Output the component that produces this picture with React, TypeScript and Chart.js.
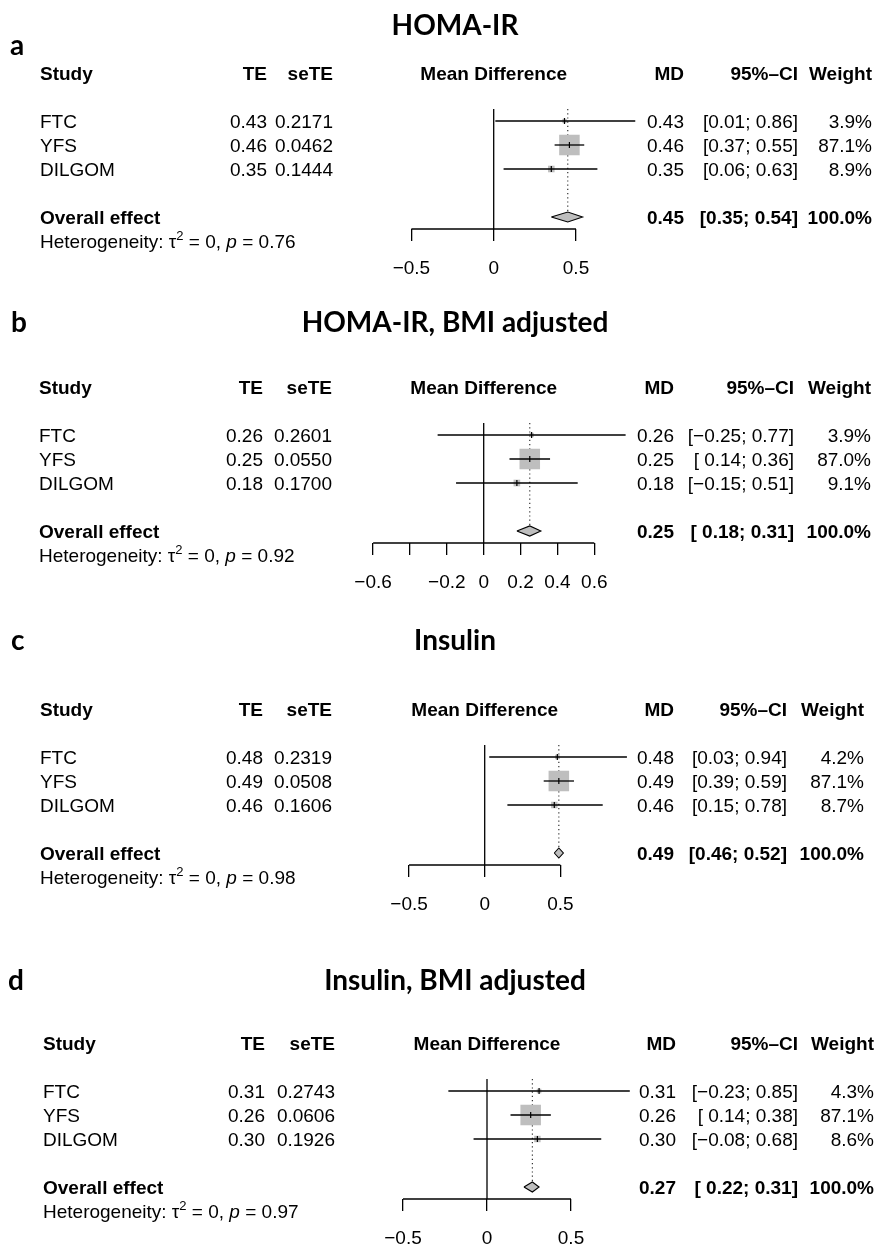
import React, { useEffect, useRef } from "react";
import { Chart, registerables } from "chart.js";

Chart.register(...registerables);

const PAGE_W = 877;
const PAGE_H = 1245;

// ---------------- data ----------------
const STUDIES = ["FTC", "YFS", "DILGOM"];
const TITLES = ["HOMA-IR", "HOMA-IR, BMI adjusted", "Insulin", "Insulin, BMI adjusted"];
const LETTERS = ["a", "b", "c", "d"];
const TAU2 = "0";

const TE_A = [0.43, 0.46, 0.35];
const SE_A = [0.2171, 0.0462, 0.1444];
const LO_A = [0.01, 0.37, 0.06];
const HI_A = [0.86, 0.55, 0.63];
const W_A = [3.9, 87.1, 8.9];
const OVERALL_A = [0.45, 0.35, 0.54];
const P_A = "0.76";
const TICKS_A = [-0.5, 0, 0.5];
const TICKLABELS_A = ["\u22120.5", "0", "0.5"];

const TE_B = [0.26, 0.25, 0.18];
const SE_B = [0.2601, 0.055, 0.17];
const LO_B = [-0.25, 0.14, -0.15];
const HI_B = [0.77, 0.36, 0.51];
const W_B = [3.9, 87.0, 9.1];
const OVERALL_B = [0.25, 0.18, 0.31];
const P_B = "0.92";
const TICKS_B = [-0.6, -0.4, -0.2, 0, 0.2, 0.4, 0.6];
const TICKLABELS_B = ["\u22120.6", "", "\u22120.2", "0", "0.2", "0.4", "0.6"];

const TE_C = [0.48, 0.49, 0.46];
const SE_C = [0.2319, 0.0508, 0.1606];
const LO_C = [0.03, 0.39, 0.15];
const HI_C = [0.94, 0.59, 0.78];
const W_C = [4.2, 87.1, 8.7];
const OVERALL_C = [0.49, 0.46, 0.52];
const P_C = "0.98";
const TICKS_C = [-0.5, 0, 0.5];
const TICKLABELS_C = ["\u22120.5", "0", "0.5"];

const TE_D = [0.31, 0.26, 0.3];
const SE_D = [0.2743, 0.0606, 0.1926];
const LO_D = [-0.23, 0.14, -0.08];
const HI_D = [0.85, 0.38, 0.68];
const W_D = [4.3, 87.1, 8.6];
const OVERALL_D = [0.27, 0.22, 0.31];
const P_D = "0.97";
const TICKS_D = [-0.5, 0, 0.5];
const TICKLABELS_D = ["\u22120.5", "0", "0.5"];

type PanelData = {
  te: number[];
  se: number[];
  lo: number[];
  hi: number[];
  w: number[];
  overall: number[];
  p: string;
  ticks: number[];
  tickLabels: string[];
};

const PANELS: PanelData[] = [
  { te: TE_A, se: SE_A, lo: LO_A, hi: HI_A, w: W_A, overall: OVERALL_A, p: P_A, ticks: TICKS_A, tickLabels: TICKLABELS_A },
  { te: TE_B, se: SE_B, lo: LO_B, hi: HI_B, w: W_B, overall: OVERALL_B, p: P_B, ticks: TICKS_B, tickLabels: TICKLABELS_B },
  { te: TE_C, se: SE_C, lo: LO_C, hi: HI_C, w: W_C, overall: OVERALL_C, p: P_C, ticks: TICKS_C, tickLabels: TICKLABELS_C },
  { te: TE_D, se: SE_D, lo: LO_D, hi: HI_D, w: W_D, overall: OVERALL_D, p: P_D, ticks: TICKS_D, tickLabels: TICKLABELS_D },
];

// ---------------- layout / style ----------------
const FONT = '"Liberation Sans", Arial, Helvetica, sans-serif';
const TITLE_FONT = 'Lato, "Open Sans", sans-serif';
const FS = 19;
const TITLE_FS = 28;
const TITLE_X = 455;
const AXIS_H = 60;
const GRAY = "#bebebe";
const BOX_K = 2.2; // box side (px) per sqrt(weight)
const DIAMOND_HALF = 0.21; // rows
const HEADER_ROW = -1;
const OVERALL_ROW = 5;
const HET_ROW = 6;
const CAP_MID = 0.358; // cap-height centre above baseline, in em

type Layout = {
  titleY: number;
  letterY: number;
  letterX: number;
  row1: number;
  rowH: number;
  zeroPx: number;
  unitPx: number;
  studyX: number;
  teR: number;
  seR: number;
  mdR: number;
  ciR: number;
  wR: number;
};

const LAYOUT: Layout[] = [
  { titleY: 25, letterY: 45, letterX: 10, row1: 121, rowH: 24, zeroPx: 493.7, unitPx: 164.6, studyX: 40, teR: 267, seR: 333, mdR: 684, ciR: 798, wR: 872 },
  { titleY: 322, letterY: 322, letterX: 11, row1: 435, rowH: 24, zeroPx: 483.7, unitPx: 184.3, studyX: 39, teR: 263, seR: 332, mdR: 674, ciR: 794, wR: 871 },
  { titleY: 640, letterY: 640, letterX: 11, row1: 757, rowH: 24, zeroPx: 484.7, unitPx: 151.3, studyX: 40, teR: 263, seR: 332, mdR: 674, ciR: 787, wR: 864 },
  { titleY: 980, letterY: 980, letterX: 8, row1: 1091, rowH: 24, zeroPx: 487, unitPx: 168, studyX: 43, teR: 265, seR: 335, mdR: 676, ciR: 798, wR: 874 },
];

const fmtNum = (v: number, d: number) => (v < 0 ? "\u2212" : "") + Math.abs(v).toFixed(d);

function ciText(lo: number, hi: number, padLo: boolean, padHi: boolean) {
  return (
    "[" +
    (padLo && lo >= 0 ? " " : "") +
    fmtNum(lo, 2) +
    "; " +
    (padHi && hi >= 0 ? " " : "") +
    fmtNum(hi, 2) +
    "]"
  );
}

function buildConfig(idx: number): any {
  const p = PANELS[idx];
  const L = LAYOUT[idx];
  const xmin = Math.min(p.ticks[0], ...p.lo);
  const xmax = Math.max(p.ticks[p.ticks.length - 1], ...p.hi);
  const padLeft = L.zeroPx + xmin * L.unitPx;
  const padRight = PAGE_W - (L.zeroPx + xmax * L.unitPx);
  const padTop = L.row1 - L.rowH / 2;
  const axisY = L.row1 + 4.5 * L.rowH;
  const padBottom = PAGE_H - axisY - AXIS_H;

  const rows = p.te.map((_, i) => i + 1);
  const est = p.overall[0];

  const lineBase = { type: "line", pointRadius: 0, borderColor: "#000", clip: false, fill: false };

  // listed bottom-to-top in drawing order
  const layers: any[] = [
    { ...lineBase, data: [{ x: 0, y: 0.5 }, { x: 0, y: 5.5 }], borderWidth: 1.3 },
    {
      ...lineBase,
      data: [{ x: est, y: 0.5 }, { x: est, y: OVERALL_ROW - DIAMOND_HALF }],
      borderWidth: 1.1,
      borderDash: [1.2, 3],
      borderColor: "#222",
    },
    {
      ...lineBase,
      data: [{ x: p.ticks[0], y: 5.5 }, { x: p.ticks[p.ticks.length - 1], y: 5.5 }],
      borderWidth: 1.3,
    },
    {
      type: "scatter",
      data: rows.map((r, i) => ({ x: p.te[i], y: r })),
      pointStyle: "rect",
      pointRadius: p.w.map((w) => (BOX_K * Math.sqrt(w)) / Math.SQRT2),
      pointBackgroundColor: GRAY,
      pointBorderWidth: 0,
      pointBorderColor: GRAY,
      clip: false,
    },
    ...rows.map((r, i) => ({
      ...lineBase,
      data: [{ x: p.lo[i], y: r }, { x: p.hi[i], y: r }],
      borderWidth: 1.3,
    })),
    {
      type: "scatter",
      data: rows.map((r, i) => ({ x: p.te[i], y: r })),
      pointStyle: "line",
      pointRotation: 90,
      pointRadius: 3,
      pointBorderColor: "#000",
      pointBorderWidth: 1.2,
      clip: false,
    },
    {
      ...lineBase,
      data: [
        { x: p.overall[1], y: OVERALL_ROW },
        { x: est, y: OVERALL_ROW - DIAMOND_HALF },
        { x: p.overall[2], y: OVERALL_ROW },
        { x: est, y: OVERALL_ROW + DIAMOND_HALF },
        { x: p.overall[1], y: OVERALL_ROW },
      ],
      fill: "shape",
      backgroundColor: GRAY,
      borderWidth: 1.1,
    },
  ];
  const datasets = layers.map((d, i) => ({ ...d, order: layers.length - i }));

  const padLo = p.lo.some((v) => v < 0) || p.overall[1] < 0;
  const padHi = p.hi.some((v) => v < 0) || p.overall[2] < 0;

  const textPlugin = {
    id: "forestText" + idx,
    afterDraw(chart: any) {
      const ctx = chart.ctx as CanvasRenderingContext2D;
      const xs = chart.scales.x;
      const ys = chart.scales.y;
      const reg = `${FS}px ${FONT}`;
      const bold = `bold ${FS}px ${FONT}`;
      const off = CAP_MID * FS;
      const txt = (s: string, x: number, y: number, align: CanvasTextAlign, f: string, o = off) => {
        ctx.font = f;
        ctx.textAlign = align;
        ctx.fillText(s, x, y + o);
      };
      ctx.save();
      ctx.fillStyle = "#000";
      ctx.textBaseline = "alphabetic";

      // title and panel letter
      const tOff = 0.36 * TITLE_FS;
      txt(TITLES[idx], TITLE_X, L.titleY, "center", `bold ${TITLE_FS}px ${TITLE_FONT}`, tOff);
      txt(LETTERS[idx], L.letterX, L.letterY, "left", `bold ${TITLE_FS}px ${TITLE_FONT}`, tOff);

      // header
      const hy = ys.getPixelForValue(HEADER_ROW);
      const mid = (p.ticks[0] + p.ticks[p.ticks.length - 1]) / 2;
      txt("Study", L.studyX, hy, "left", bold);
      txt("TE", L.teR, hy, "right", bold);
      txt("seTE", L.seR, hy, "right", bold);
      txt("Mean Difference", xs.getPixelForValue(mid), hy, "center", bold);
      txt("MD", L.mdR, hy, "right", bold);
      txt("95%\u2013CI", L.ciR, hy, "right", bold);
      txt("Weight", L.wR, hy, "right", bold);

      // study rows
      rows.forEach((r, i) => {
        const y = ys.getPixelForValue(r);
        txt(STUDIES[i], L.studyX, y, "left", reg);
        txt(fmtNum(p.te[i], 2), L.teR, y, "right", reg);
        txt(fmtNum(p.se[i], 4), L.seR, y, "right", reg);
        txt(fmtNum(p.te[i], 2), L.mdR, y, "right", reg);
        txt(ciText(p.lo[i], p.hi[i], padLo, padHi), L.ciR, y, "right", reg);
        txt(p.w[i].toFixed(1) + "%", L.wR, y, "right", reg);
      });

      // overall
      const oy = ys.getPixelForValue(OVERALL_ROW);
      txt("Overall effect", L.studyX, oy, "left", bold);
      txt(fmtNum(est, 2), L.mdR, oy, "right", bold);
      txt(ciText(p.overall[1], p.overall[2], padLo, padHi), L.ciR, oy, "right", bold);
      txt("100.0%", L.wR, oy, "right", bold);

      // heterogeneity
      const hty = ys.getPixelForValue(HET_ROW) + off;
      let x = L.studyX;
      const seg = (s: string, f: string, dy = 0) => {
        ctx.font = f;
        ctx.textAlign = "left";
        ctx.fillText(s, x, hty + dy);
        x += ctx.measureText(s).width;
      };
      seg("Heterogeneity: \u03c4", reg);
      seg("2", `13px ${FONT}`, -8);
      seg(" = " + TAU2 + ", ", reg);
      seg("p", `italic ${FS}px ${FONT}`);
      seg(" = " + p.p, reg);

      ctx.restore();
    },
  };

  return {
    type: "scatter",
    data: { datasets },
    options: {
      animation: false,
      responsive: false,
      maintainAspectRatio: false,
      events: [],
      layout: { padding: { left: padLeft, right: padRight, top: padTop, bottom: padBottom } },
      plugins: { legend: { display: false }, tooltip: { enabled: false }, title: { display: false } },
      scales: {
        x: {
          type: "linear",
          min: xmin,
          max: xmax,
          bounds: "data",
          afterBuildTicks: (scale: any) => {
            scale.ticks = p.ticks.map((v) => ({ value: v }));
          },
          afterFit: (scale: any) => {
            scale.height = AXIS_H;
          },
          border: { display: false },
          grid: { display: true, drawOnChartArea: false, drawTicks: true, tickLength: 12, color: "#000", lineWidth: 1.3 },
          ticks: {
            autoSkip: false,
            maxRotation: 0,
            minRotation: 0,
            padding: 16,
            color: "#000",
            font: { size: FS, family: FONT },
            callback: (_v: any, i: number) => p.tickLabels[i],
          },
        },
        y: { type: "linear", min: 0.5, max: 5.5, reverse: true, display: false },
      },
    },
    plugins: [textPlugin],
  };
}

function Panel({ idx }: { idx: number }) {
  const ref = useRef<HTMLCanvasElement | null>(null);
  useEffect(() => {
    const chart = new Chart(ref.current as HTMLCanvasElement, buildConfig(idx));
    return () => chart.destroy();
  }, [idx]);
  return (
    <canvas
      ref={ref}
      width={PAGE_W}
      height={PAGE_H}
      style={{ position: "absolute", left: 0, top: 0, width: PAGE_W, height: PAGE_H }}
    />
  );
}

export default function App() {
  return (
    <div
      style={{
        position: "absolute",
        left: 0,
        top: 0,
        width: PAGE_W,
        height: PAGE_H,
        background: "#fff",
        overflow: "hidden",
      }}
    >
      {PANELS.map((_, i) => (
        <Panel key={i} idx={i} />
      ))}
    </div>
  );
}
